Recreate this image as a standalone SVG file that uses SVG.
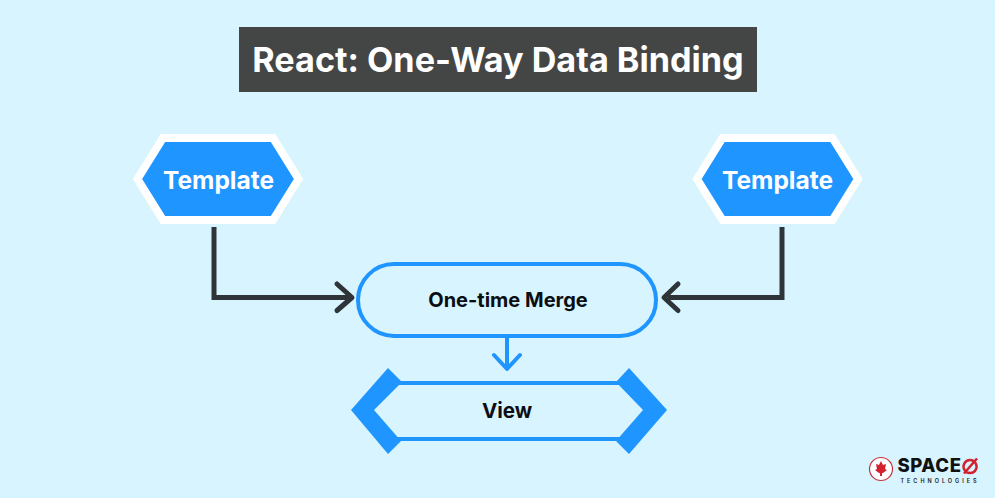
<svg xmlns="http://www.w3.org/2000/svg" width="995" height="498" viewBox="0 0 995 498">
<style>
text{font-family:Inter,"Liberation Sans",sans-serif;text-anchor:middle}
.hex{fill:#1f95ff;stroke:#fff;stroke-width:8;stroke-linejoin:miter}
.lbl{fill:#fff;font-size:24.500px;font-weight:700}
.blk{fill:#0b0f14;font-size:20px;font-weight:700}
.dk{fill:none;stroke:#2f3439;stroke-width:5}
.bl{fill:none;stroke:#1f95ff;stroke-width:4}
.cap{stroke-linecap:round;stroke-linejoin:round}
</style>
<rect width="995" height="498" fill="#d8f4ff"/>
<g id="title"><rect x="239" y="27" width="518" height="65" fill="#444645"/>
<text x="498" y="72" fill="#fff" style="font-size:34.200px;font-weight:700">React: One-Way Data Binding</text></g>
<g id="connectors">
<path class="dk" d="M214 227V297.500H349"/>
<path class="dk cap" d="M337 284L352 297.500L337 310.500"/>
<path class="dk" d="M782 227V297.500H668"/>
<path class="dk cap" d="M678 284L664 297.500L678 310.500"/>
<path class="bl" d="M507 337V367"/>
<path class="bl cap" d="M494 355L507 369L520 355"/>
</g>
<g id="template-left"><path class="hex" d="M137.500 179L163 138H273L298.500 179L273 220H163Z"/><text class="lbl" x="218.500" y="189">Template</text></g>
<g id="template-right"><path class="hex" d="M697 179L722.500 138H832.500L858 179L832.500 220H722.500Z"/><text class="lbl" x="777.500" y="189">Template</text></g>
<g id="merge"><rect x="358" y="264" width="298" height="72" rx="36" fill="#d8f4ff" stroke="#1f95ff" stroke-width="4"/><text class="blk" x="508" y="307">One-time Merge</text></g>
<g id="view">
<path d="M390 383H625M390 439H625" class="bl"/>
<path d="M388 368L402 382L374 410L401 441L388 454L351 410Z" fill="#1f95ff"/>
<path d="M629 368L616 382L643 410L616 441L629 454L667 410Z" fill="#1f95ff"/>
<text class="blk" x="507" y="418" style="font-size:20.500px">View</text></g>
<g id="logo">
<circle cx="881" cy="469" r="11.500" fill="#fff" stroke="#c8313a" stroke-width="1.200"/>
<path d="M881 461L883 465L886 464L885 469L887 470L883 473H882V476H880V473H879L875 470L877 469L876 464L879 465Z" fill="#d3212d"/>
<text x="929.500" y="472" fill="#111" style="font-size:18.500px;font-weight:800;letter-spacing:.6px">SPACE</text>
<path d="M970 460a6.500 6.500 0 1 0 .1 0M964 473.500L977 458.500" fill="none" stroke="#d3212d" stroke-width="2.500"/>
<text x="940" y="482.500" fill="#222" style="font-size:5.500px;letter-spacing:3px;font-weight:600">TECHNOLOGIES</text>
</g>
</svg>
